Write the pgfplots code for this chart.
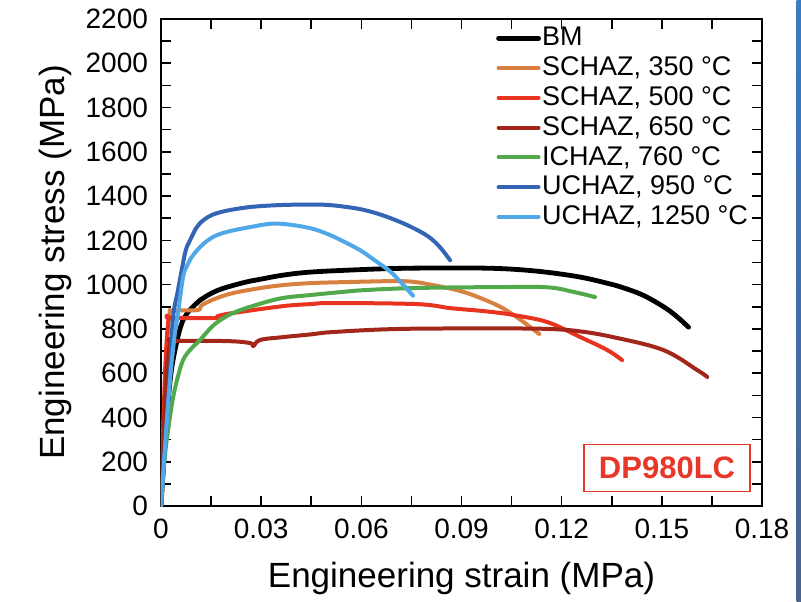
\documentclass[border=0pt]{standalone}
\usepackage{pgfplots}
\pgfplotsset{compat=1.18}
\usepackage{fontspec}
\setmainfont{Liberation Sans}
\definecolor{cbm}{RGB}{0,0,0}
\definecolor{c350}{RGB}{216,128,64}
\definecolor{c500}{RGB}{232,52,30}
\definecolor{c650}{RGB}{163,38,26}
\definecolor{c760}{RGB}{80,170,76}
\definecolor{c950}{RGB}{52,100,180}
\definecolor{c1250}{RGB}{80,168,232}
\definecolor{dpred}{RGB}{230,55,40}
\definecolor{bartop}{RGB}{58,122,194}
\definecolor{barbot}{RGB}{74,100,140}

\begin{document}
\begin{tikzpicture}
\path[use as bounding box] (-80.5pt,-47.5pt) rectangle (320pt,253pt);
\begin{axis}[
  scale only axis,
  width=300.5pt, height=243.5pt,
  at={(0,0)}, anchor=south west,
  xmin=0, xmax=0.18, ymin=0, ymax=2200,
  xtick={0,0.03,0.06,0.09,0.12,0.15,0.18},
  xticklabels={0,0.03,0.06,0.09,0.12,0.15,0.18},
  ytick={0,200,...,2200},
  minor x tick num=1, minor y tick num=1,
  tick align=inside,
  major tick length=5pt, minor tick length=5pt,
  tick style={black, line width=0.8pt},
  axis line style={line width=1pt},
  ticklabel style={font=\fontsize{14}{16}\selectfont},
  /pgf/number format/assume math mode=true,
  /pgf/number format/1000 sep={},
  yticklabel style={xshift=-3pt},
  xticklabel style={yshift=-3pt},
  xlabel={Engineering strain (MPa)},
  ylabel={Engineering stress (MPa)},
  label style={font=\fontsize{17.5}{20}\selectfont},
  xlabel style={at={(axis description cs:0.5,-0.148)}, anchor=center},
  ylabel style={at={(axis description cs:-0.176,0.5)}, anchor=center},
  legend style={at={(rel axis cs:0.557,0.992)}, anchor=north west,
    draw=none, fill=none, inner sep=0pt,
    font=\fontsize{13.5}{15}\selectfont,
    nodes={inner sep=0.6pt, text height=10.7pt, text depth=3pt}},
  legend cell align=left,
  legend image code/.code={\draw[#1] (0pt,0pt) -- (20pt,0pt);},
  every axis plot/.append style={line width=2pt, line join=round, line cap=round, smooth, tension=0.6},
]
\addplot[cbm, line width=2.4pt] coordinates {
 (0,0) (0.0015,350) (0.003,600) (0.005,760) (0.0066,840) (0.008,875)
 (0.0117,930) (0.014,952) (0.018,980) (0.025,1010) (0.03,1025) (0.0366,1043)
 (0.045,1057) (0.06,1068) (0.07,1073) (0.08,1075) (0.095,1075)
 (0.105,1070) (0.115,1057) (0.1256,1034) (0.134,1005) (0.138,988)
 (0.144,955) (0.15,905) (0.154,862) (0.158,808)};
\addplot[c350] coordinates {
 (0,0) (0.0015,620) (0.0025,860) (0.0035,882) (0.011,885) (0.012,905)
 (0.016,935) (0.0216,962) (0.03,985) (0.0366,998) (0.045,1007)
 (0.0566,1012) (0.0716,1016) (0.078,1008) (0.0815,998) (0.0895,972)
 (0.0956,940) (0.1016,900) (0.1064,855) (0.11,815) (0.1133,777)};
\addplot[c500] coordinates {
 (0,0) (0.0012,600) (0.0022,840) (0.0027,849) (0.016,849) (0.017,858)
 (0.0216,872) (0.0366,903) (0.0447,912) (0.0516,917) (0.0767,912)
 (0.0866,894) (0.0956,882) (0.1016,872) (0.1055,863) (0.1157,831)
 (0.1256,763) (0.1336,705) (0.1381,659)};
\addplot[c650] coordinates {
 (0,0) (0.0015,560) (0.0028,740) (0.0036,745) (0.0197,745) (0.0267,736)
 (0.0276,722) (0.0297,750) (0.0366,763) (0.0447,775) (0.0516,786)
 (0.0716,800) (0.1016,802) (0.1157,800) (0.125,790) (0.1354,763)
 (0.1504,705) (0.1606,614) (0.1636,583)};
\addplot[c760] coordinates {
 (0,0) (0.001,200) (0.002,330) (0.0035,480) (0.0048,569) (0.0066,659)
 (0.009,710) (0.0117,750) (0.016,820) (0.0216,872) (0.03,915)
 (0.0366,940) (0.0447,953) (0.055,968) (0.0617,976) (0.0767,985)
 (0.1016,989) (0.1157,988) (0.1236,967) (0.130,944)};
\addplot[c950] coordinates {
 (0,0) (0.0015,330) (0.0027,600) (0.0036,850) (0.0051,976) (0.0066,1097)
 (0.0075,1160) (0.009,1210) (0.0105,1255) (0.0117,1278) (0.014,1305)
 (0.0168,1323) (0.021,1338) (0.0267,1351) (0.03,1355) (0.0366,1360)
 (0.0447,1362) (0.05,1360) (0.055,1352) (0.06,1340) (0.065,1320)
 (0.07,1293) (0.075,1260) (0.08,1218) (0.0835,1170) (0.0866,1110)};
\addplot[c1250] coordinates {
 (0,0) (0.0015,330) (0.0027,569) (0.004,760) (0.0051,872) (0.0066,1034)
 (0.0078,1085) (0.009,1120) (0.0105,1150) (0.0117,1170) (0.014,1200)
 (0.0168,1224) (0.021,1243) (0.0267,1260) (0.0328,1275)
 (0.038,1272) (0.0447,1255) (0.0497,1230) (0.054,1200) (0.0596,1156)
 (0.064,1110) (0.0686,1060) (0.072,1008) (0.0755,950)};
\legend{BM, {SCHAZ, 350 °C}, {SCHAZ, 500 °C}, {SCHAZ, 650 °C},
  {ICHAZ, 760 °C}, {UCHAZ, 950 °C}, {UCHAZ, 1250 °C}}
\node[draw=dpred, line width=0.8pt, text=dpred,
  font=\bfseries\fontsize{15.5}{17}\selectfont,
  minimum width=83pt, minimum height=23.5pt, inner sep=0pt]
  at (rel axis cs:0.842,0.078) {DP980LC};
\end{axis}
\shade[top color=bartop, bottom color=barbot] (317.8pt,-47.5pt) rectangle (320pt,253pt);
\end{tikzpicture}
\end{document}
